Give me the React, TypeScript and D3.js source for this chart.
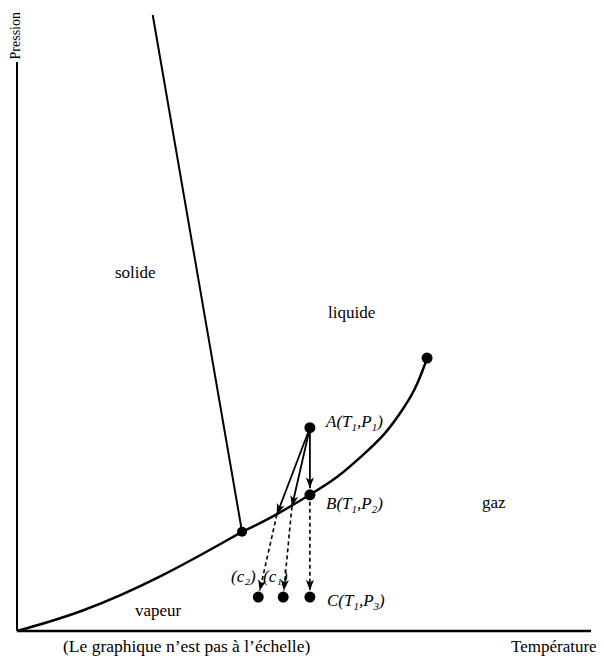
import React from "react";
import * as d3 from "d3";

const W = 604;
const H = 659;

// Phase boundaries on a 0–100 temperature / pressure scale (not to scale)
const sublimationT = [0, 11, 24.7, 38.8];
const sublimationP = [0, 2.9, 8.6, 16.1];
const vaporisationT = [38.8, 44.1, 50.5, 55.2, 59.7, 63.4, 66.5, 68.6, 70.0, 70.7];
const vaporisationP = [16.1, 18.5, 22.1, 24.8, 28.6, 31.8, 35.9, 39.1, 42.4, 44.3];
const fusionT = [38.8, 23.4];
const fusionP = [16.1, 100];

// Special points
const tripleT = 38.8;
const tripleP = 16.1;
const criticalT = 70.7;
const criticalP = 44.3;

// Isothermal states at T1 and the two alternative paths
const T1 = 50.5;
const P1 = 33.0;
const P2 = 22.1;
const P3 = 5.5;
const pathLabels = ["(c₂)", "(c₁)"];
const pathEndT = [41.6, 45.9];
const pathCurveT = [44.8, 47.4];
const pathCurveP = [18.9, 20.2];

const regionLabels = ["solide", "liquide", "gaz", "vapeur"];

const FONT = "'Liberation Serif', 'Times New Roman', serif";

export default function App() {
  const x = d3.scaleLinear().domain([0, 100]).range([17, 597]);
  const y = d3.scaleLinear().domain([0, 100]).range([631, 15]);

  const line = d3
    .line<[number, number]>()
    .x((d) => x(d[0]))
    .y((d) => y(d[1]))
    .curve(d3.curveBasis);

  const straight = d3
    .line<[number, number]>()
    .x((d) => x(d[0]))
    .y((d) => y(d[1]));

  const zip = (a: number[], b: number[]) => a.map((v, i) => [v, b[i]] as [number, number]);

  // shorten a segment's end by `s` pixels
  const shorten = (x1: number, y1: number, x2: number, y2: number, s: number) => {
    const dx = x2 - x1;
    const dy = y2 - y1;
    const L = Math.hypot(dx, dy);
    return [x2 - (dx / L) * s, y2 - (dy / L) * s];
  };

  const ax = x(T1);
  const ay = y(P1);
  const bx = x(T1);
  const by = y(P2);
  const cy = y(P3);
  const dotR = 5.5;

  const regionPos: [number, number][] = [
    [115, 278],
    [328, 318],
    [482, 508],
    [135, 616],
  ];

  const [abx, aby] = shorten(ax, ay, bx, by, dotR + 1);
  const [bcx, bcy] = shorten(bx, by, bx, cy, dotR + 1);

  return (
    <svg
      width={W}
      height={H}
      style={{ position: "absolute", left: 0, top: 0, background: "#fff" }}
      fontFamily={FONT}
    >
      <defs>
        <marker
          id="arrow"
          viewBox="0 -5 12 10"
          refX={12}
          refY={0}
          markerWidth={11}
          markerHeight={9}
          markerUnits="userSpaceOnUse"
          orient="auto"
        >
          <path d="M0,-4.5 L12,0 L0,4.5 L3,0 Z" fill="#000" />
        </marker>
      </defs>

      {/* axes */}
      <line x1={x(0)} y1={62} x2={x(0)} y2={y(0)} stroke="#000" strokeWidth={2} />
      <line x1={x(0)} y1={y(0)} x2={591} y2={y(0)} stroke="#000" strokeWidth={2.5} />
      <text transform={`translate(20,12) rotate(-90)`} textAnchor="end" fontSize={14}>
        Pression
      </text>

      {/* phase boundaries */}
      <path d={line(zip(sublimationT, sublimationP)) || ""} fill="none" stroke="#000" strokeWidth={2.5} />
      <path d={line(zip(vaporisationT, vaporisationP)) || ""} fill="none" stroke="#000" strokeWidth={2.5} />
      <path d={straight(zip(fusionT, fusionP)) || ""} fill="none" stroke="#000" strokeWidth={2} />

      {/* isothermal path A -> B */}
      <line x1={ax} y1={ay} x2={abx} y2={aby} stroke="#000" strokeWidth={1.8} markerEnd="url(#arrow)" />
      {/* B -> C, dashed */}
      <line
        x1={bx}
        y1={by}
        x2={bcx}
        y2={bcy}
        stroke="#000"
        strokeWidth={1.6}
        strokeDasharray="4 3"
        markerEnd="url(#arrow)"
      />

      {/* alternative paths c1, c2 */}
      {pathEndT.map((t, i) => {
        const px = x(pathCurveT[i]);
        const py = y(pathCurveP[i]);
        const ex = x(t);
        const [dx2, dy2] = shorten(px, py, ex, cy, dotR + 1);
        return (
          <g key={i}>
            <line x1={ax} y1={ay} x2={px} y2={py} stroke="#000" strokeWidth={1.8} markerEnd="url(#arrow)" />
            <line
              x1={px}
              y1={py}
              x2={dx2}
              y2={dy2}
              stroke="#000"
              strokeWidth={1.6}
              strokeDasharray="4 3"
              markerEnd="url(#arrow)"
            />
            <circle cx={ex} cy={cy} r={dotR} fill="#000" />
          </g>
        );
      })}

      {/* points */}
      <circle cx={x(tripleT)} cy={y(tripleP)} r={5} fill="#000" />
      <circle cx={x(criticalT)} cy={y(criticalP)} r={5.5} fill="#000" />
      <circle cx={ax} cy={ay} r={dotR} fill="#000" />
      <circle cx={bx} cy={by} r={dotR} fill="#000" />
      <circle cx={bx} cy={cy} r={dotR} fill="#000" />

      {/* state labels */}
      <g fontSize={17} fontStyle="italic">
        <text x={326} y={427}>
          A(T<tspan dy={4} fontSize={11}>1</tspan>
          <tspan dy={-4}>,P</tspan>
          <tspan dy={4} fontSize={11}>1</tspan>
          <tspan dy={-4}>)</tspan>
        </text>
        <text x={326} y={509}>
          B(T<tspan dy={4} fontSize={11}>1</tspan>
          <tspan dy={-4}>,P</tspan>
          <tspan dy={4} fontSize={11}>2</tspan>
          <tspan dy={-4}>)</tspan>
        </text>
        <text x={327} y={606}>
          C(T<tspan dy={4} fontSize={11}>1</tspan>
          <tspan dy={-4}>,P</tspan>
          <tspan dy={4} fontSize={11}>3</tspan>
          <tspan dy={-4}>)</tspan>
        </text>
        {pathLabels.map((l, i) => (
          <text key={l} x={i === 0 ? 231 : 263} y={582}>
            {l}
          </text>
        ))}
      </g>

      {/* region labels */}
      <g fontSize={17}>
        {regionLabels.map((l, i) => (
          <text key={l} x={regionPos[i][0]} y={regionPos[i][1]}>
            {l}
          </text>
        ))}
        <text x={63} y={652} fontSize={17.5}>(Le graphique n’est pas à l’échelle)</text>
        <text x={511} y={652}>Température</text>
      </g>
    </svg>
  );
}
